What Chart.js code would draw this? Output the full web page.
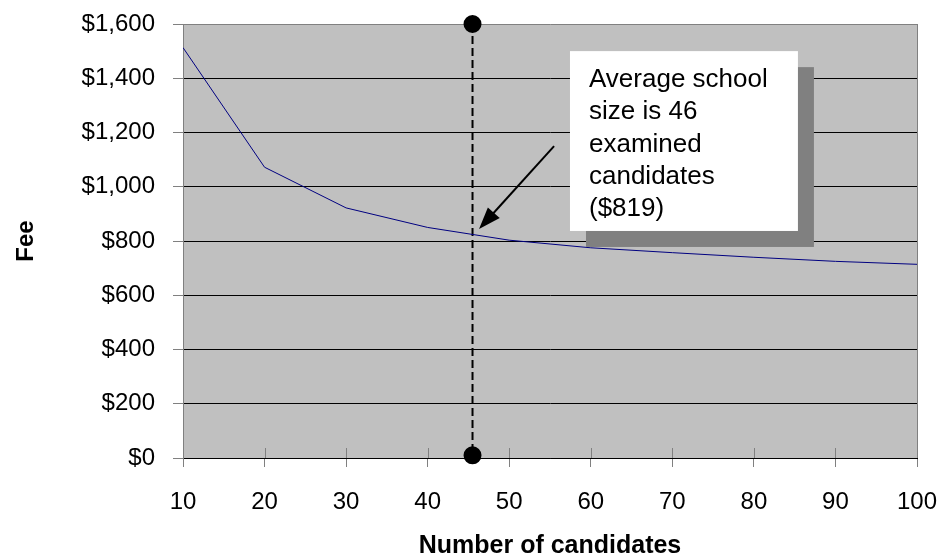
<!DOCTYPE html>
<html lang="en">
<head>
  <meta charset="UTF-8">
  <title>Fee by number of candidates</title>
  <script src="https://cdn.jsdelivr.net/npm/chart.js"></script>
  <style>
    body {
      margin: 0;
      background: #fff;
    }
    canvas {
      display: block;
    }
  </style>
</head>
<body>
  <canvas id="feeChart" width="944" height="559"></canvas>

  <script>
    // data
    const candidates = [10, 20, 30, 40, 50, 60, 70, 80, 90, 100];
    const fees = [1513, 1072, 922, 850, 803, 775, 757, 740, 725, 714];
    const feeTicks = [0, 200, 400, 600, 800, 1000, 1200, 1400, 1600];
    const candidateTicks = [10, 20, 30, 40, 50, 60, 70, 80, 90, 100];

    // average school size marker (dashed line with dots)
    const avgSize = [45.5, 45.5];
    const avgFee = [1600, 10];

    // callout box and arrow, in data units
    const calloutLines = ['Average school', 'size is 46', 'examined', 'candidates', '($819)'];
    const calloutBox = { x1: 57.45, y1: 1500, x2: 85.4, y2: 837 };
    const calloutArrow = { x1: 55.5, y1: 1150, x2: 46.3, y2: 844 };

    const FONT = 'Arial, "Liberation Sans", sans-serif';

    const plotArea = {
      id: 'plotArea',
      beforeDraw(chart) {
        const { ctx, chartArea: a } = chart;
        ctx.save();
        ctx.fillStyle = '#c0c0c0';
        ctx.fillRect(a.left, a.top, a.width, a.height);
        ctx.restore();
      },
      beforeDatasetsDraw(chart) {
        // right border and the part of the x tick marks inside the plot
        const { ctx, chartArea: a, scales: { x } } = chart;
        ctx.save();
        ctx.strokeStyle = '#808080';
        ctx.lineWidth = 1;
        ctx.beginPath();
        ctx.moveTo(a.right + 0.5, a.top);
        ctx.lineTo(a.right + 0.5, a.bottom);
        x.ticks.forEach(t => {
          const px = Math.round(x.getPixelForValue(t.value)) + 0.5;
          ctx.moveTo(px, a.bottom - 10);
          ctx.lineTo(px, a.bottom);
        });
        ctx.stroke();
        ctx.restore();
      }
    };

    const callout = {
      id: 'callout',
      afterDatasetsDraw(chart) {
        const { ctx, scales: { x, y } } = chart;
        const l = x.getPixelForValue(calloutBox.x1);
        const t = y.getPixelForValue(calloutBox.y1);
        const r = x.getPixelForValue(calloutBox.x2);
        const b = y.getPixelForValue(calloutBox.y2);
        ctx.save();
        ctx.fillStyle = '#808080';
        ctx.fillRect(l + 16, t + 16, r - l, b - t);
        ctx.fillStyle = '#fff';
        ctx.fillRect(l, t, r - l, b - t);

        ctx.fillStyle = '#000';
        ctx.font = '26px ' + FONT;
        ctx.textBaseline = 'alphabetic';
        calloutLines.forEach((line, i) => {
          ctx.fillText(line, l + 19, t + 36 + i * 32.3);
        });

        // arrow
        const ax1 = x.getPixelForValue(calloutArrow.x1), ay1 = y.getPixelForValue(calloutArrow.y1);
        const ax2 = x.getPixelForValue(calloutArrow.x2), ay2 = y.getPixelForValue(calloutArrow.y2);
        const ang = Math.atan2(ay2 - ay1, ax2 - ax1);
        const headLen = 22, headW = 8;
        ctx.strokeStyle = '#000';
        ctx.lineWidth = 2;
        ctx.beginPath();
        ctx.moveTo(ax1, ay1);
        ctx.lineTo(ax2 - Math.cos(ang) * headLen * 0.8, ay2 - Math.sin(ang) * headLen * 0.8);
        ctx.stroke();
        ctx.beginPath();
        ctx.moveTo(ax2, ay2);
        ctx.lineTo(ax2 - Math.cos(ang) * headLen + Math.sin(ang) * headW,
                   ay2 - Math.sin(ang) * headLen - Math.cos(ang) * headW);
        ctx.lineTo(ax2 - Math.cos(ang) * headLen - Math.sin(ang) * headW,
                   ay2 - Math.sin(ang) * headLen + Math.cos(ang) * headW);
        ctx.closePath();
        ctx.fill();
        ctx.restore();
      }
    };

    const ctx = document.getElementById('feeChart').getContext('2d');
    const feeChart = new Chart(ctx, {
      type: 'line',
      data: {
        datasets: [
          {
            label: 'Fee',
            data: candidates.map((c, i) => ({ x: c, y: fees[i] })),
            borderColor: '#000080',
            borderWidth: 1,
            pointRadius: 0,
            tension: 0
          },
          {
            label: 'Average school size',
            data: avgSize.map((c, i) => ({ x: c, y: avgFee[i] })),
            borderColor: '#000',
            borderWidth: 2,
            borderDash: [8, 4],
            pointRadius: 8,
            pointBackgroundColor: '#000',
            pointBorderColor: '#000',
            clip: false
          }
        ]
      },
      options: {
        responsive: false,
        animation: false,
        events: [],
        layout: {
          padding: { top: 24, right: 27, left: 0, bottom: 0 }
        },
        plugins: {
          legend: { display: false },
          tooltip: { enabled: false }
        },
        scales: {
          x: {
            type: 'linear',
            min: 10,
            max: 100,
            afterBuildTicks: scale => {
              scale.ticks = candidateTicks.map(v => ({ value: v }));
            },
            afterFit: scale => {
              scale.height = 101;
              scale.paddingLeft = 0;
              scale.paddingRight = 0;
            },
            grid: {
              drawOnChartArea: false,
              tickLength: 9,
              tickColor: '#808080'
            },
            border: { color: '#000', width: 1 },
            ticks: {
              padding: 21,
              color: '#000',
              font: { family: FONT, size: 24 },
              maxRotation: 0
            },
            title: {
              display: true,
              text: 'Number of candidates',
              color: '#000',
              font: { family: FONT, size: 25, weight: 'bold', lineHeight: 1 },
              padding: { top: 0, bottom: 0 }
            }
          },
          y: {
            min: 0,
            max: 1600,
            afterBuildTicks: scale => {
              scale.ticks = feeTicks.map(v => ({ value: v }));
            },
            afterFit: scale => {
              scale.width = 183;
              scale.paddingTop = 0;
              scale.paddingBottom = 0;
            },
            grid: {
              color: c => (c.tick && c.tick.value === 1600 ? '#808080' : '#000'),
              lineWidth: 1,
              tickLength: 10,
              tickColor: '#808080'
            },
            border: { color: '#808080', width: 1 },
            ticks: {
              padding: 18,
              color: '#000',
              font: { family: FONT, size: 24 },
              callback: v => '$' + v.toLocaleString('en-US')
            },
            title: {
              display: true,
              text: 'Fee',
              color: '#000',
              font: { family: FONT, size: 24, weight: 'bold', lineHeight: 1 },
              padding: { top: 14, bottom: 0 }
            }
          }
        }
      },
      plugins: [plotArea, callout]
    });
  </script>
</body>
</html>
